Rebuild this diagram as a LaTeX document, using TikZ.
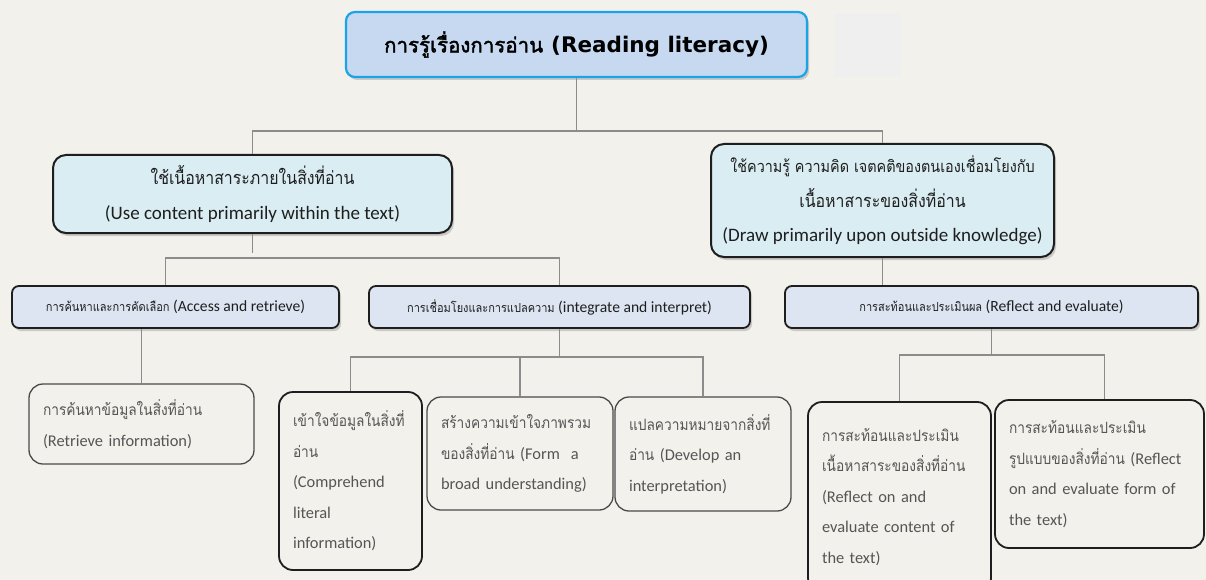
\documentclass[tikz,border=0pt]{standalone}
\usepackage{fontspec}
\setmainfont{Carlito}
\newfontfamily\thaifont[Script=Thai,Scale=0.95,FakeStretch=0.88]{Loma}
\newfontfamily\thaismall[Script=Thai,Scale=0.80,FakeStretch=0.88]{Loma}
\newfontfamily\titlefont{DejaVu Sans}
\newfontfamily\titlethai[Script=Thai,FakeBold=2]{Loma}
\newcommand\tha[1]{{\thaifont #1}}
\usetikzlibrary{shadows, positioning}
\definecolor{PaperTone}{HTML}{F2F1EC}
\definecolor{PaleBlock}{HTML}{EFEFEF}
\definecolor{RootFill}{HTML}{C6D9F0}
\definecolor{RootEdge}{HTML}{1AA3E6}
\definecolor{AspectFill}{HTML}{DAEDF3}
\definecolor{GroupFill}{HTML}{DCE5F1}
\definecolor{InkDark}{HTML}{1E1E1E}
\definecolor{LeafEdge}{HTML}{4A4A4A}
\definecolor{LeafText}{HTML}{555555}
\definecolor{LinkGray}{HTML}{8C8C8C}

\begin{document}
\begin{tikzpicture}[x=1pt, y=-1pt,
  rootbox/.style={draw=RootEdge, fill=RootFill, line width=2.2pt, rounded corners=9pt,
    drop shadow={opacity=0.35, shadow xshift=2pt, shadow yshift=-3pt}},
  aspectbox/.style={draw=InkDark, fill=AspectFill, line width=2pt, rounded corners=13pt,
    drop shadow={opacity=0.35, shadow xshift=2pt, shadow yshift=-3pt},
    align=center, text=InkDark, font=\fontsize{19}{34.5}\selectfont},
  groupbox/.style={draw=InkDark, fill=GroupFill, line width=1.8pt, rounded corners=7pt,
    drop shadow={opacity=0.35, shadow xshift=2pt, shadow yshift=-3pt},
    text=InkDark, font=\fontsize{15.6}{18}\selectfont\let\thaifont\thaismall},
  leafbox/.style={draw=LeafEdge, line width=1.3pt, rounded corners=14pt, align=left,
    inner xsep=14pt, text=LeafText, font=\fontsize{16.4}{30.5}\selectfont},
  darkleaf/.style={leafbox, draw=InkDark, line width=1.8pt},
  link/.style={draw=LinkGray, line width=1.4pt}]
  \useasboundingbox (0,0) rectangle (1206,580);
  \fill[PaperTone] (0,0) rectangle (1206,580);
  \fill[PaleBlock] (834,13) rectangle (901,77);

  % root and the two ways of reading
  \node[rootbox, minimum width=461pt, minimum height=65pt] (root) at (576.5,44.5)
    {{\titlethai\fontsize{20.5}{22}\selectfont การรู้เรื่องการอ่าน}\hspace{8pt}{\titlefont\bfseries\fontsize{21.5}{22}\selectfont(Reading literacy)}};
  \node[aspectbox, minimum width=399pt, minimum height=78pt] (within) at (252.5,194)
    {\tha{ใช้เนื้อหาสาระภายในสิ่งที่อ่าน}\\(Use content primarily within the text)};
  \node[aspectbox, minimum width=343pt, minimum height=113pt] (outside) at (882.5,200.5)
    {{\thaifont\fontsize{17.2}{20}\selectfont ใช้ความรู้ ความคิด เจตคติของตนเองเชื่อมโยงกับ}\\\tha{เนื้อหาสาระของสิ่งที่อ่าน}\\(Draw primarily upon outside knowledge)};

  % aspects
  \node[groupbox, minimum width=327pt, minimum height=42pt] (access) at (175.5,307)
    {\tha{การค้นหาและการคัดเลือก} (Access and retrieve)};
  \node[groupbox, minimum width=381pt, minimum height=42pt] (integrate) at (559.5,307)
    {\tha{การเชื่อมโยงและการแปลความ} (integrate and interpret)};
  \node[groupbox, minimum width=413pt, minimum height=42pt] (reflect) at (991.5,307)
    {\tha{การสะท้อนและประเมินผล} (Reflect and evaluate)};

  % leaves
  \node[leafbox, text width=197pt, minimum height=80pt] (retrieve) at (141.5,424)
    {\tha{การค้นหาข้อมูลในสิ่งที่อ่าน}\\(Retrieve information)};
  \node[darkleaf, text width=115pt, minimum height=178pt] (comprehend) at (350.5,481)
    {\tha{เข้าใจข้อมูลในสิ่งที่}\\\tha{อ่าน}\\(Comprehend\\literal\\information)};
  \node[leafbox, text width=158pt, minimum height=113pt] (broad) at (520,453.5)
    {\tha{สร้างความเข้าใจภาพรวม}\\\tha{ของสิ่งที่อ่าน} (Form~~a\\broad understanding)};
  \node[leafbox, text width=148pt, minimum height=114pt] (develop) at (703,454)
    {\tha{แปลความหมายจากสิ่งที่}\\\tha{อ่าน} (Develop an\\interpretation)};
  \node[darkleaf, text width=155pt, minimum height=190pt] (content) at (899.5,497)
    {\tha{การสะท้อนและประเมิน}\\\tha{เนื้อหาสาระของสิ่งที่อ่าน}\\(Reflect on and\\evaluate content of\\the text)};
  \node[darkleaf, text width=181pt, minimum height=148pt] (form) at (1099.5,474)
    {\tha{การสะท้อนและประเมิน}\\\tha{รูปแบบของสิ่งที่อ่าน} (Reflect\\on and evaluate form of\\the text)};

  % tree links
  \coordinate (busRoot) at (0,131);
  \coordinate (busWithin) at (0,258);
  \coordinate (busIntegrate) at (0,357);
  \coordinate (busReflect) at (0,355);
  \draw[link] (root.south) -- (root.south |- busRoot);
  \draw[link] (within.north) |- (busRoot -| outside.north) -- (outside.north);
  \draw[link] (within.south) -- ([yshift=5]within.south |- busWithin);
  \draw[link] ([xshift=-10]access.north) |- (busWithin -| integrate.north) -- (integrate.north);
  \draw[link] (outside.south) -- (outside.south |- reflect.north);
  \draw[link] (retrieve.north |- access.south) -- (retrieve.north);
  \draw[link] (integrate.south) -- (integrate.south |- busIntegrate);
  \draw[link] (comprehend.north) |- (busIntegrate -| develop.north) -- (develop.north);
  \draw[link] (broad.north) -- (broad.north |- busIntegrate);
  \draw[link] (reflect.south) -- (reflect.south |- busReflect);
  \draw[link] (content.north) |- ([xshift=5]busReflect -| form.north) -- ([xshift=5]form.north);
\end{tikzpicture}
\end{document}
